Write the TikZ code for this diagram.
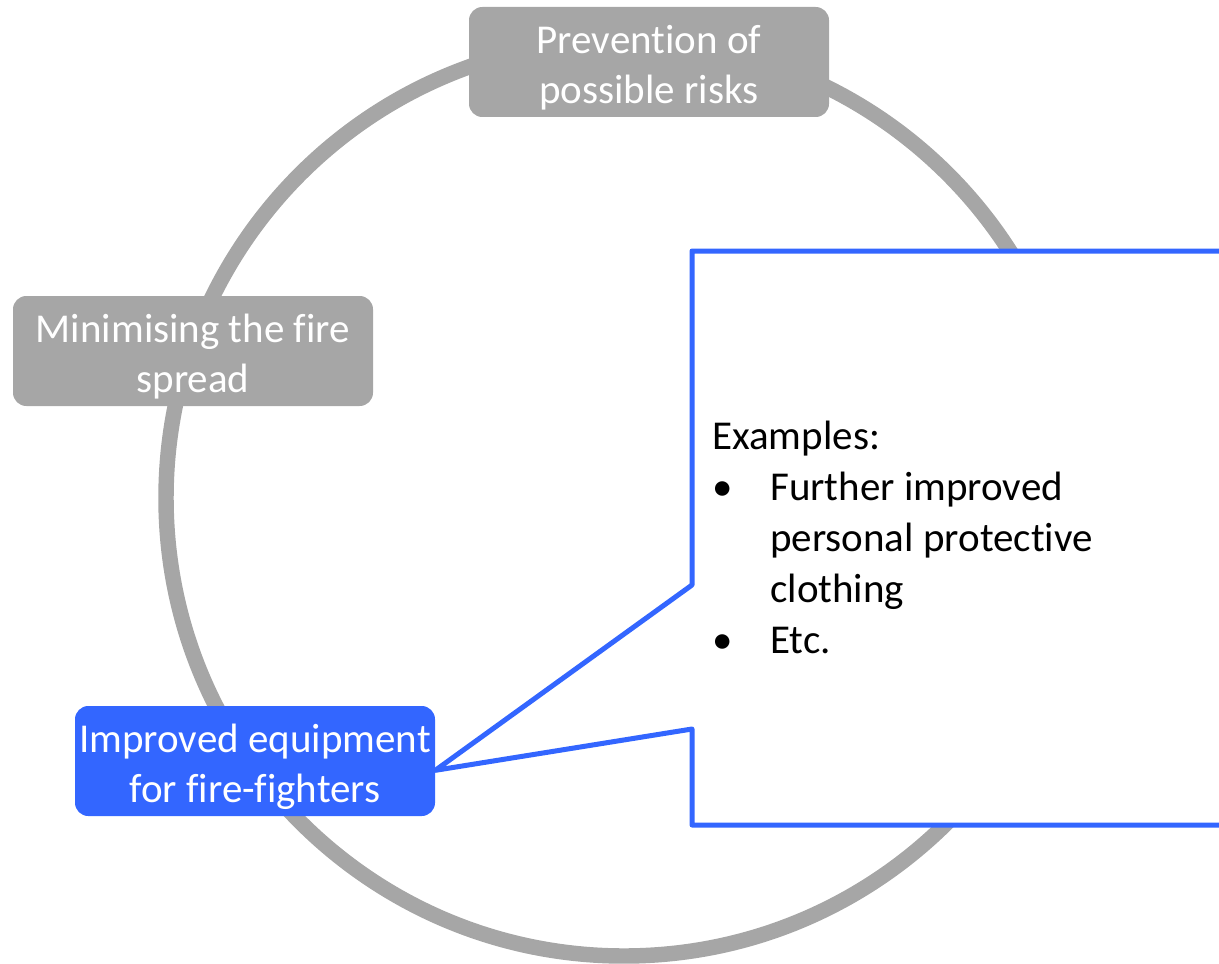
\documentclass[tikz,border=0pt]{standalone}
\usepackage{fontspec}
\setmainfont{Carlito}[Ligatures=NoCommon]
\usepackage{tikz}
\definecolor{ringgray}{RGB}{166,166,166}
\definecolor{stepblue}{RGB}{51,102,255}
\pgfdeclarelayer{back}
\pgfsetlayers{back,main}
\newcommand{\bulletgap}{\makebox[43.5pt][l]{\textbullet}}
\newcommand{\topstrut}{\rule{0pt}{30pt}}

\begin{document}
\begin{tikzpicture}[x=0.75pt,y=0.75pt,yscale=-1,xscale=1,
  stepbox/.style={fill=ringgray,rounded corners=10pt,minimum width=270pt,minimum height=82.5pt,inner sep=0pt,align=center,text=white,font=\fontsize{30.75}{37.5}\selectfont},
  activebox/.style={stepbox,fill=stepblue}]
\useasboundingbox (0,0) rectangle (1219,963);

% Text Node
\draw (649,62) node (prevent) [stepbox] {\topstrut Prevention of\\possible risks};
% Text Node
\draw (193,351) node (minimise) [stepbox] {\topstrut Minimising the fire\\spread};
% Text Node
\draw (255,761) node (equip) [activebox] {\topstrut Improved equipment\\for fire-fighters};

% Text Node
\draw (712,653) node (examples) [anchor=base west,inner sep=0pt,align=left,font=\fontsize{30.75}{38.25}\selectfont] {Examples:\\\bulletgap Further improved\\\hspace*{43.5pt}personal protective\\\hspace*{43.5pt}clothing\\\bulletgap Etc.};

\begin{pgfonlayer}{back}
%Shape: Circle
\draw [color=ringgray,line width=11.6pt] (624,498) circle [radius=458];
%Shape: Callout
\draw [color=stepblue,fill=white,line width=3.75pt,line join=round] ([yshift=7pt]equip.east) -- (692,585) -- (692,251) -- (1260,251) -- (1260,825) -- (692,825) -- (692,729) -- cycle;
\end{pgfonlayer}

\end{tikzpicture}
\end{document}
